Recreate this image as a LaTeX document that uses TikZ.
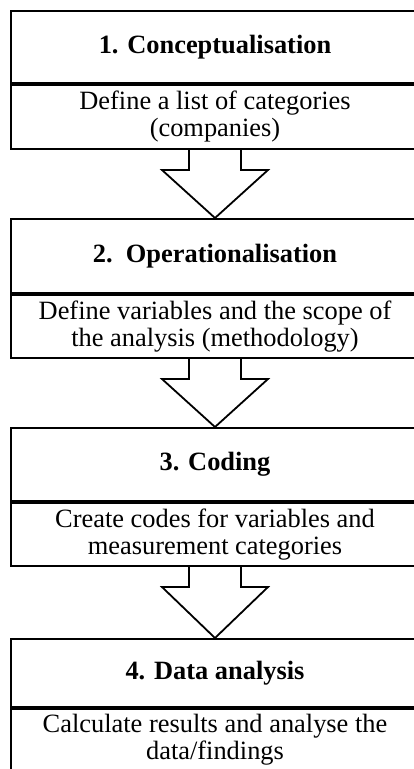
\documentclass[tikz,border=0pt]{standalone}
\usepackage{fontspec}
\setmainfont{Liberation Serif}
\usetikzlibrary{calc}

\tikzset{
  stage/.style={draw, line width=2pt, rectangle, minimum width=408pt,
    inner sep=0pt, align=center, anchor=north,
    font=\fontsize{26.4}{27}\selectfont},
  stagetitle/.style={stage, font=\fontsize{26.4}{27}\selectfont\bfseries},
  flow/.style={draw, line width=1.8pt, line join=miter}
}

% block arrow from the bottom of one stage to the top of the next
\newcommand\flowarrow[2]{%
  \draw[flow] ($(#1.south)+(-26,0)$) -- ++(0,20) -- ++(-27,0)
    -- (#2.north) -- ($(#1.south)+(53,20)$) -- ++(-27,0)
    -- ($(#1.south)+(26,0)$);
}

\begin{document}
\begin{tikzpicture}[x=1pt,y=-1pt]
  \useasboundingbox (0,0) rectangle (414,769);
  \fill[white] (0,0) rectangle (414,769);
  \clip (0,0) rectangle (414,769);

  % stage 1
  \node[stagetitle, minimum height=72pt] (t1) at (215,10) {1. Conceptualisation};
  \node[stage, minimum height=64pt] (d1) at (t1.south) {Define a list of categories\\(companies)};

  % stage 2
  \node[stagetitle, minimum height=74pt] (t2) at (215,218) {2.\ \ Operationalisation};
  \node[stage, minimum height=63pt] (d2) at (t2.south) {Define variables and the scope of\\the analysis (methodology)};

  % stage 3
  \node[stagetitle, minimum height=73pt] (t3) at (215,427) {3. Coding};
  \node[stage, minimum height=63pt] (d3) at (t3.south) {Create codes for variables and\\measurement categories};

  % stage 4
  \node[stagetitle, minimum height=68pt] (t4) at (215,638) {4. Data analysis};
  \node[stage, minimum height=62pt] (d4) at (t4.south) {Calculate results and analyse the\\data/findings};

  \flowarrow{d1}{t2}
  \flowarrow{d2}{t3}
  \flowarrow{d3}{t4}
\end{tikzpicture}
\end{document}
